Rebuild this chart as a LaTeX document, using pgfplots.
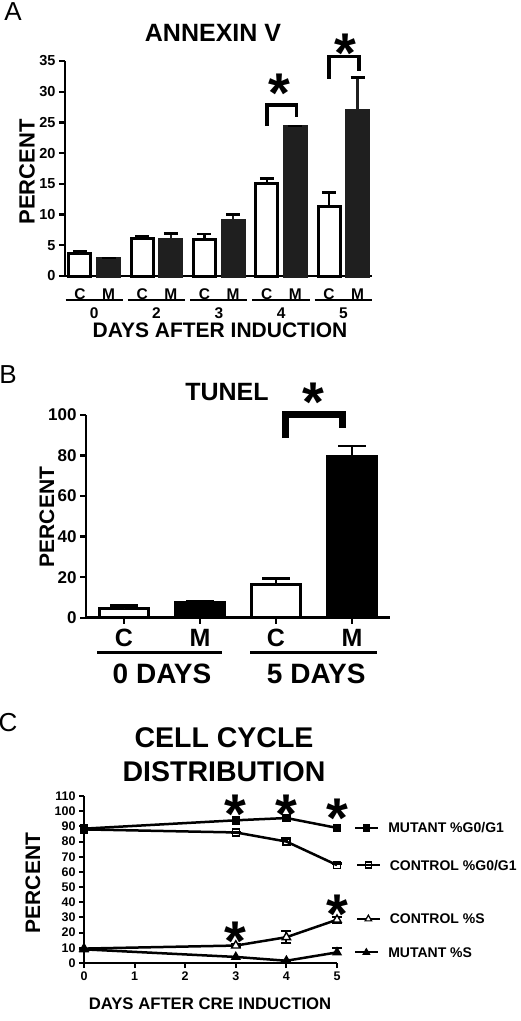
\documentclass[border=0pt]{standalone}
\usepackage{pgfplots}
\pgfplotsset{compat=1.18}
\usepackage{fontspec}
\setmainfont{Liberation Sans}
\newcommand\fs[1]{\fontsize{#1}{#1}\selectfont\bfseries}
\tikzset{star/.style={font=\fs{56}, anchor=base, yshift=-31pt, inner sep=0pt}}
\begin{document}
\begin{tikzpicture}
\useasboundingbox (0,0) rectangle (520pt,-1021pt);
\pgfplotsset{
  myaxis/.style={scale only axis, anchor=south west, axis x line=bottom, axis y line=left,
    axis line style={-, line width=2.8pt}, tick align=outside, major tick length=6pt,
    every tick/.style={line width=2.4pt, black},
    /pgf/number format/assume math mode=true, clip=false},
  ebar/.style={error bars/.cd, y dir=plus, y explicit,
    error bar style={line width=2.5pt},
    error mark options={rotate=90, mark size=#1, line width=2.5pt}},
}
% ---------------- Panel A ----------------
\begin{axis}[myaxis, at={(65pt,-276pt)}, width=307pt, height=215pt,
  xmin=-0.47, xmax=4.46, ymin=0, ymax=35, ytick={0,5,...,35},
  yticklabel style={font=\fs{14.5}},
  xtick={-0.23,0.23,0.77,1.23,1.77,2.23,2.77,3.23,3.77,4.23},
  xticklabels={C,M,C,M,C,M,C,M,C,M},
  xticklabel style={font=\fs{15.5}, yshift=-3pt},
  x tick style={draw=none}]
\addplot[ybar, bar width=22pt, bar shift=0pt, fill=white, draw=black, line width=3pt, ebar=7pt]
  coordinates {(-0.23,3.7)+-(0,0.3) (0.77,6.1)+-(0,0.3) (1.77,5.9)+-(0,0.9) (2.77,15.1)+-(0,0.8) (3.77,11.3)+-(0,2.3)};
\addplot[ybar, bar width=22pt, bar shift=0pt, fill=black!88, draw=black!88, line width=3pt, ebar=7pt]
  coordinates {(0.23,2.9)+-(0,0) (1.23,6.0)+-(0,0.9) (2.23,9.1)+-(0,0.9) (3.23,24.3)+-(0,0.1) (4.23,26.9)+-(0,5.4)};
\draw[line width=2.5pt] ([yshift=-24pt]axis cs:-0.46,0) -- ([yshift=-24pt]axis cs:0.46,0);
\draw[line width=2.5pt] ([yshift=-24pt]axis cs:0.54,0) -- ([yshift=-24pt]axis cs:1.46,0);
\draw[line width=2.5pt] ([yshift=-24pt]axis cs:1.54,0) -- ([yshift=-24pt]axis cs:2.46,0);
\draw[line width=2.5pt] ([yshift=-24pt]axis cs:2.54,0) -- ([yshift=-24pt]axis cs:3.46,0);
\draw[line width=2.5pt] ([yshift=-24pt]axis cs:3.54,0) -- ([yshift=-24pt]axis cs:4.46,0);
\node[font=\fs{15.5}] at ([yshift=-37pt]axis cs:0,0) {0};
\node[font=\fs{15.5}] at ([yshift=-37pt]axis cs:1,0) {2};
\node[font=\fs{15.5}] at ([yshift=-37pt]axis cs:2,0) {3};
\node[font=\fs{15.5}] at ([yshift=-37pt]axis cs:3,0) {4};
\node[font=\fs{15.5}] at ([yshift=-37pt]axis cs:4,0) {5};
\draw[line width=3.5pt] (axis cs:2.77,24.4) -- (axis cs:2.77,27.8) -- (axis cs:3.25,27.8) -- (axis cs:3.25,25.9);
\draw[line width=3.5pt] (axis cs:3.77,32.1) -- (axis cs:3.77,35.7) -- (axis cs:4.25,35.7) -- (axis cs:4.25,33.4);
\node[star] at (axis cs:2.98,31.6) {*};
\node[star] at (axis cs:4.03,38.1) {*};
\end{axis}
% ---------------- Panel B ----------------
\begin{axis}[myaxis, at={(86pt,-617.7pt)}, width=304pt, height=202.7pt,
  xmin=0.5, xmax=4.5, ymin=0, ymax=100, ytick={0,20,...,100},
  yticklabel style={font=\fs{17}},
  xtick={1,2,3,4}, xticklabels={C,M,C,M},
  xticklabel style={font=\fs{25}, yshift=-2pt}]
\addplot[ybar, bar width=49pt, bar shift=0pt, fill=white, draw=black, line width=3pt, ebar=14pt]
  coordinates {(1,4.6)+-(0,1.4) (3,16.5)+-(0,2.9)};
\addplot[ybar, bar width=49pt, bar shift=0pt, fill=black, draw=black, line width=3pt, ebar=14pt]
  coordinates {(2,7.4)+-(0,0.8) (4,79.4)+-(0,5.3)};
\draw[line width=3pt] ([yshift=-35pt]axis cs:0.645,0) -- ([yshift=-35pt]axis cs:2.29,0);
\draw[line width=3pt] ([yshift=-35pt]axis cs:2.66,0) -- ([yshift=-35pt]axis cs:4.33,0);
\node[font=\fs{28}] at ([yshift=-56pt]axis cs:1.5,0) {0 DAYS};
\node[font=\fs{28}] at ([yshift=-56pt]axis cs:3.53,0) {5 DAYS};
\draw[line width=7pt] (axis cs:3.12,88.6) -- (axis cs:3.12,100.4) -- (axis cs:3.88,100.4) -- (axis cs:3.88,93.6);
\node[star] at (axis cs:3.49,112) {*};
\end{axis}
% ---------------- Panel C ----------------
\begin{axis}[myaxis, at={(84pt,-963pt)}, width=253pt, height=167pt,
  xmin=0, xmax=5, ymin=0, ymax=110, ytick={0,10,...,110}, xtick={0,...,5},
  axis line style={-, line width=2.5pt}, major tick length=5pt,
  every tick/.style={line width=2pt, black},
  ticklabel style={font=\fs{12.5}},
  every axis plot/.append style={line width=2.5pt, black, mark size=3.5pt}]
\addplot[mark=square*, mark options={solid, line width=1.5pt}] coordinates {(0,88.5) (3,94) (4,95.5) (5,89)};
\addplot[mark=square, mark options={solid, line width=1.5pt, fill=white}, ebar=5pt] coordinates {(0,88) (3,86)+-(0,0) (4,80)+-(0,2) (5,64.5)+-(0,1)};
\addplot[mark=triangle*, mark size=4.8pt, mark options={solid, line width=1.4pt, fill=white}, error bars/.cd, y dir=both, y explicit,
  error bar style={line width=2pt}, error mark options={rotate=90, mark size=5pt, line width=2pt}]
  coordinates {(0,9.5)+-(0,0) (3,11.5)+-(0,1) (4,17)+-(0,4) (5,28.5)+-(0,2)};
\addplot[mark=triangle*, mark size=4.5pt, mark options={solid, line width=1.4pt}, error bars/.cd, y dir=plus, y explicit,
  error bar style={line width=2pt}, error mark options={rotate=90, mark size=5pt, line width=2pt}]
  coordinates {(0,9) (3,4)+-(0,0) (4,1.5)+-(0,0) (5,7)+-(0,3)};
% label keys
\addplot[line width=2pt, mark=square*, mark size=3pt, mark options={solid, line width=1.4pt}, mark indices={2}] coordinates {(5.36,89) (5.58,89) (5.81,89)};
\addplot[line width=2pt, mark=square, mark size=3pt, mark options={solid, line width=1.4pt, fill=white}, mark indices={2}] coordinates {(5.40,64.5) (5.62,64.5) (5.85,64.5)};
\addplot[line width=2pt, mark=triangle*, mark size=3.8pt, mark options={solid, line width=1.2pt, fill=white}, mark indices={2}] coordinates {(5.40,29) (5.62,29) (5.85,29)};
\addplot[line width=2pt, mark=triangle*, mark size=3.6pt, mark options={solid, line width=1.2pt}, mark indices={2}] coordinates {(5.36,7) (5.58,7) (5.81,7)};
\node[font=\fs{14}, anchor=west, inner sep=0pt] at (axis cs:6.01,89) {MUTANT \%G0/G1};
\node[font=\fs{14}, anchor=west, inner sep=0pt] at (axis cs:6.04,64.5) {CONTROL \%G0/G1};
\node[font=\fs{14}, anchor=west, inner sep=0pt] at (axis cs:6.04,29) {CONTROL \%S};
\node[font=\fs{14}, anchor=west, inner sep=0pt] at (axis cs:6.01,7) {MUTANT \%S};
\node[star] at (axis cs:3,106) {*};
\node[star] at (axis cs:4,106) {*};
\node[star] at (axis cs:5,103) {*};
\node[star] at (axis cs:5,40) {*};
\node[star] at (axis cs:3,22) {*};
\end{axis}
% ---------------- Texts ----------------
\node[font=\fontsize{26}{26}\selectfont] at (13pt,-12pt) {A};
\node[font=\fontsize{26}{26}\selectfont] at (8pt,-375pt) {B};
\node[font=\fontsize{26}{26}\selectfont] at (8pt,-723pt) {C};
\node[font=\fs{25}] at (213pt,-33pt) {ANNEXIN V};
\node[font=\fs{21}] at (220pt,-330pt) {DAYS AFTER INDUCTION};
\node[font=\fs{22}, rotate=90] at (27pt,-172pt) {PERCENT};
\node[font=\fs{25}] at (227pt,-392pt) {TUNEL};
\node[font=\fs{21}, rotate=90] at (47pt,-517pt) {PERCENT};
\node[font=\fs{28.5}] at (224pt,-738pt) {CELL CYCLE};
\node[font=\fs{28.5}] at (224pt,-772pt) {DISTRIBUTION};
\node[font=\fs{21}, rotate=90] at (33pt,-883pt) {PERCENT};
\node[font=\fs{16.7}] at (210pt,-1004pt) {DAYS AFTER CRE INDUCTION};
\end{tikzpicture}
\end{document}
